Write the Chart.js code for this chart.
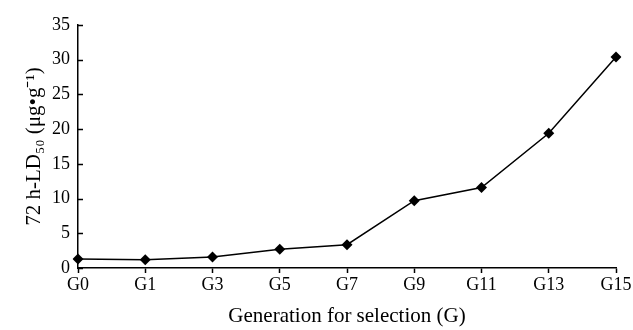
<!DOCTYPE html>
<html>
<head>
<meta charset="utf-8">
<script src="https://cdn.jsdelivr.net/npm/chart.js@4"></script>
<style>
  html, body { margin: 0; padding: 0; background: #fff; }
  #wrap { width: 633px; height: 330px; }
</style>
</head>
<body>
<div id="wrap"><canvas id="ld-chart"></canvas></div>
<script>
// Generations and 72 h-LD50 values
const generations = ['G0', 'G1', 'G3', 'G5', 'G7', 'G9', 'G11', 'G13', 'G15'];
const ld50Values = [1.3, 1.2, 1.6, 2.7, 3.35, 9.7, 11.6, 19.4, 30.4];
const yTicks = [0, 5, 10, 15, 20, 25, 30, 35];

const serif = "'Liberation Serif', 'Times New Roman', serif";

// y-axis ticks point inward, so draw them by hand from the scale
const innerTicks = {
  id: 'innerTicks',
  afterDraw(chart) {
    const { ctx, scales } = chart;
    const y = scales.y;
    const x0 = chart.chartArea.left;
    ctx.save();
    ctx.strokeStyle = '#000';
    ctx.lineWidth = 1.5;
    ctx.beginPath();
    yTicks.forEach(v => {
      const py = Math.round(y.getPixelForValue(v)) + 0.5;
      ctx.moveTo(x0, py);
      ctx.lineTo(x0 + 5, py);
    });
    ctx.stroke();
    ctx.restore();
  }
};

const config = {
  type: 'line',
  data: {
    labels: generations,
    datasets: [{
      label: '72 h-LD50',
      data: ld50Values,
      borderColor: '#000',
      backgroundColor: '#000',
      borderWidth: 1.5,
      tension: 0,
      pointStyle: 'rectRot',
      pointRadius: 5.5,
      pointBorderWidth: 0,
      pointBackgroundColor: '#000'
    }]
  },
  options: {
    responsive: true,
    maintainAspectRatio: false,
    animation: false,
    layout: {
      padding: { top: 25, right: 17, left: 0, bottom: 0 }
    },
    plugins: {
      legend: { display: false },
      tooltip: { enabled: false }
    },
    scales: {
      x: {
        type: 'category',
        offset: false,
        afterFit(scale) { scale.height = 62; },
        grid: {
          display: true,
          drawOnChartArea: false,
          drawTicks: true,
          tickLength: 5,
          tickWidth: 1.5,
          color: '#000'
        },
        border: { display: true, color: '#000', width: 1.5 },
        ticks: {
          color: '#000',
          font: { family: serif, size: 18 },
          padding: 1,
          maxRotation: 0,
          autoSkip: false
        },
        title: {
          display: true,
          text: 'Generation for selection (G)',
          color: '#000',
          font: { family: serif, size: 21 },
          padding: { top: 0, bottom: 1 }
        }
      },
      y: {
        min: 0,
        max: 35,
        afterFit(scale) { scale.width = 78; },
        afterBuildTicks(scale) { scale.ticks = yTicks.map(v => ({ value: v })); },
        grid: { display: false, drawTicks: false },
        border: { display: true, color: '#000', width: 1.5 },
        ticks: {
          color: '#000',
          font: { family: serif, size: 18 },
          padding: 8
        },
        title: {
          display: true,
          text: '72 h-LD₅₀ (μg•g⁻¹)',
          color: '#000',
          font: { family: serif, size: 21 },
          padding: { top: 22, bottom: 0 }
        }
      }
    }
  },
  plugins: [innerTicks]
};

const chart = new Chart(document.getElementById('ld-chart').getContext('2d'), config);
</script>
</body>
</html>
